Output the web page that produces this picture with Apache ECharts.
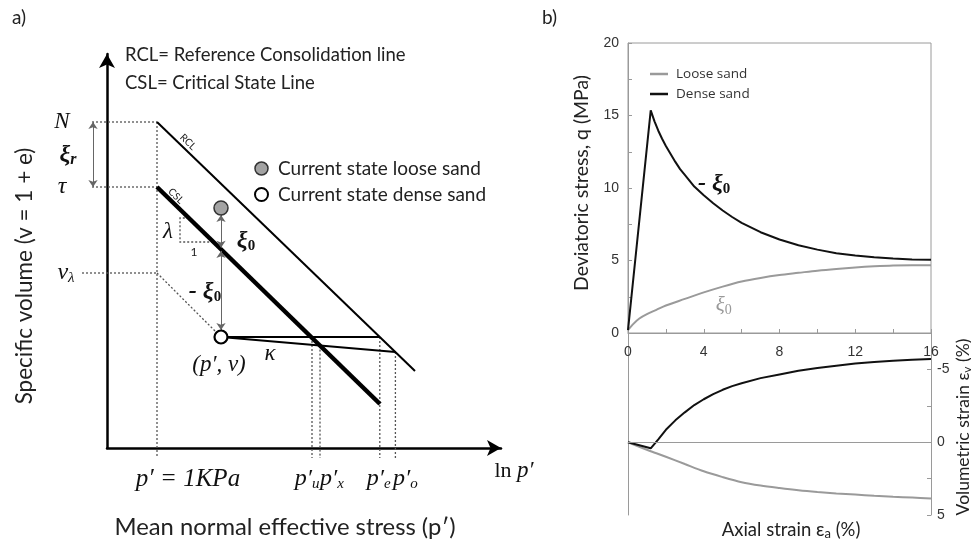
<!DOCTYPE html>
<html>
<head>
<meta charset="utf-8">
<script src="https://cdn.jsdelivr.net/npm/echarts/dist/echarts.min.js"></script>
<style>
  html, body { margin: 0; padding: 0; background: #fff; }
  #chart { width: 971px; height: 544px; }
</style>
</head>
<body>
<div id="chart"></div>
<script>
// ---------- (a) schematic state diagram: x = ln p', y = specific volume v (schematic units) ----------
const lnpRef = 2.5;                               // p' = 1 kPa
const vLevels = [16.3, 13.05, 8.75];              // N, tau, v_lambda
const rclLine = [[2.5, 16.3], [15.4, 3.85]];      // reference consolidation line
const cslLine = [[2.5, 13.05], [13.65, 2.2]];     // critical state line
const looseState = [5.7, 12.0];
const denseState = [5.7, 5.55];
const flatPath = [[5.7, 5.55], [13.64, 5.55]];
const kappaLine = [[5.7, 5.55], [14.42, 4.8]];
const lambdaStep = [[4.09, 11.5], [3.65, 11.5], [3.65, 10.3], [5.33, 10.3]];
const pTickNames = ['u', 'x', 'e', 'o'];
const pTickValues = [10.25, 10.65, 13.64, 14.42];
const pTickTops = [5.55, 5.12, 5.55, 4.8];

// ---------- (b) triaxial response ----------
const strainLoose = [0, 0.3, 0.6, 1, 1.5, 2, 3, 4, 5, 6, 7, 8, 9, 10, 11, 12, 13, 14, 15, 16];
const qLoose = [0.2, 0.65, 1.0, 1.3, 1.6, 1.9, 2.35, 2.8, 3.2, 3.55, 3.8, 4.0, 4.15, 4.3, 4.42, 4.52, 4.6, 4.66, 4.68, 4.68];
const strainDense = [0, 1.2, 1.4, 1.6, 1.8, 2, 2.25, 2.5, 2.75, 3, 3.5, 4, 4.5, 5, 5.5, 6, 7, 8, 9, 10, 11, 12, 13, 14, 15, 16];
const qDense = [0.2, 15.35, 14.6, 13.95, 13.4, 12.9, 12.35, 11.8, 11.3, 10.9, 10.1, 9.5, 8.95, 8.45, 8.0, 7.6, 6.95, 6.45, 6.05, 5.75, 5.5, 5.35, 5.22, 5.13, 5.07, 5.05];
const strainVolLoose = [0, 1.2, 2, 3, 4, 5, 6, 7, 8, 9, 10, 11, 12, 13, 14, 15, 16];
const evLoose = [0, 0.62, 1.0, 1.5, 2.0, 2.4, 2.75, 2.98, 3.15, 3.3, 3.42, 3.52, 3.6, 3.68, 3.75, 3.8, 3.86];
const strainVolDense = [0, 1.2, 1.6, 2, 2.5, 3, 3.5, 4, 4.5, 5, 5.5, 6, 7, 8, 9, 10, 11, 12, 13, 14, 15, 16];
const evDense = [0, 0.42, -0.2, -0.85, -1.5, -2.05, -2.55, -2.95, -3.3, -3.6, -3.85, -4.05, -4.4, -4.65, -4.9, -5.1, -5.25, -5.4, -5.5, -5.6, -5.67, -5.72];
const qTicks = [0, 5, 10, 15, 20];
const strainTicks = [0, 4, 8, 12, 16];
const evTicks = [-5, 0, 5];

const SANS = 'Lato, "Open Sans", sans-serif';
const MATH = '"Liberation Serif", "DejaVu Serif", serif';
const ARIAL = '"Liberation Sans", Arial, sans-serif';

const zip = (xs, ys) => xs.map((x, i) => [x, ys[i]]);
const cslAt = x => {
  const [[x0, y0], [x1, y1]] = cslLine;
  return y0 + (y1 - y0) * (x - x0) / (x1 - x0);
};
const markerR = 0.35;
const bottomY = -0.5;

const INK = '#111';
const mathRich = {
  i: { fontFamily: MATH, fontStyle: 'italic', fontSize: 23, color: INK, textBorderWidth: 0 },
  w: { fontFamily: MATH, fontStyle: 'italic', fontSize: 24, color: INK, textBorderWidth: 0 },
  p: { fontFamily: MATH, fontStyle: 'italic', fontSize: 25, color: INK, textBorderWidth: 0 },
  s: { fontFamily: MATH, fontStyle: 'italic', fontSize: 15, color: INK, textBorderWidth: 0, padding: [10, 0, 0, 0] },
  b: { fontFamily: MATH, fontStyle: 'italic', fontWeight: 'bold', fontSize: 24, color: INK, textBorderWidth: 0 },
  bs: { fontFamily: MATH, fontWeight: 'bold', fontSize: 15, color: INK, textBorderWidth: 0, padding: [10, 0, 0, 0] },
  bsi: { fontFamily: MATH, fontStyle: 'italic', fontWeight: 'bold', fontSize: 16, color: INK, textBorderWidth: 0, padding: [10, 0, 0, 0] },
  r: { fontFamily: MATH, fontSize: 22, color: INK, textBorderWidth: 0 },
  n: { fontFamily: SANS, fontSize: 12, color: '#222', textBorderWidth: 0 },
  g: { fontFamily: MATH, fontStyle: 'italic', fontSize: 21, color: '#999', textBorderWidth: 0 },
  gs: { fontFamily: MATH, fontSize: 14, color: '#999', textBorderWidth: 0, padding: [10, 0, 0, 0] }
};
const noteLabel = {
  show: true, position: 'inside', align: 'center', verticalAlign: 'middle',
  color: INK, opacity: 1, textBorderWidth: 0, textBorderColor: 'transparent', rich: mathRich
};

function segs(name, list, style, extra) {
  return Object.assign({
    type: 'lines', name, coordinateSystem: 'cartesian2d', xAxisIndex: 0, yAxisIndex: 0,
    polyline: true, clip: false, silent: true, z: 3,
    data: list.map(c => ({ coords: c })),
    lineStyle: Object.assign({ color: '#000', width: 1.5, opacity: 1, type: 'solid', curveness: 0 }, style)
  }, extra || {});
}

function note(value, formatter, extra) {
  return { value, label: Object.assign({ formatter }, extra || {}) };
}

const xiArrows = [
  [[looseState[0], looseState[1] - markerR], [looseState[0], cslAt(looseState[0]) + 0.08]],
  [[denseState[0], cslAt(denseState[0]) - 0.08], [denseState[0], denseState[1] + markerR]]
];

const dottedGuides = [
  [[-0.75, vLevels[0]], [lnpRef, vLevels[0]]],
  [[-0.75, vLevels[1]], [lnpRef, vLevels[1]]],
  [[-1.25, vLevels[2]], [lnpRef, vLevels[2]]],
  [[lnpRef, vLevels[0]], [lnpRef, bottomY]],
  [[lnpRef, vLevels[2]], denseState],
  lambdaStep
].concat(pTickValues.map((p, i) => [[p, pTickTops[i]], [p, bottomY]]));

const chart = echarts.init(document.getElementById('chart'), null, { renderer: 'canvas' });

const textStyle = (text, size, extra) => Object.assign({
  text, fontFamily: SANS, fontSize: size, fill: '#222',
  textVerticalAlign: 'middle', verticalAlign: 'middle'
}, extra || {});
const centered = { textAlign: 'center', align: 'center' };
const subRich = (size) => ({
  n: { fontFamily: SANS, fontSize: size, fill: '#222', color: '#222' },
  s: { fontFamily: SANS, fontSize: Math.round(size * 0.7), fill: '#222', color: '#222', padding: [8, 0, 0, 0] }
});

const option = {
  backgroundColor: '#fff',
  animation: false,
  grid: [
    { left: 107, top: 54, width: 394, height: 394, outerBoundsMode: 'none' },
    { left: 628, top: 43, width: 303, height: 290, show: true, borderColor: '#9a9a9a', borderWidth: 1, backgroundColor: 'transparent', outerBoundsMode: 'none' },
    { left: 628, top: 333, width: 303, height: 182, outerBoundsMode: 'none' }
  ],
  xAxis: [
    { gridIndex: 0, type: 'value', min: 0, max: 19.7,
      axisLine: { show: true, onZero: false, symbol: ['none', 'arrow'], symbolSize: [12, 14], lineStyle: { color: '#000', width: 2.5 } },
      axisTick: { show: false }, axisLabel: { show: false }, splitLine: { show: false } },
    { gridIndex: 1, type: 'value', min: 0, max: 16, interval: 2,
      axisLine: { show: true, onZero: false, lineStyle: { color: '#9a9a9a', width: 1 } },
      axisTick: { show: true, inside: true, length: 4, lineStyle: { color: '#9a9a9a' } },
      axisLabel: { show: true, margin: 12, color: '#333', fontFamily: ARIAL, fontSize: 14,
        showMinLabel: true, showMaxLabel: true, hideOverlap: false,
        formatter: v => (strainTicks.indexOf(v) >= 0 ? String(v) : '') },
      splitLine: { show: false } },
    { gridIndex: 2, type: 'value', min: 0, max: 16, show: false }
  ],
  yAxis: [
    { gridIndex: 0, type: 'value', min: 0, max: 19.7,
      axisLine: { show: true, onZero: false, symbol: ['none', 'arrow'], symbolSize: [12, 14], lineStyle: { color: '#000', width: 2.5 } },
      axisTick: { show: false }, axisLabel: { show: false }, splitLine: { show: false } },
    { gridIndex: 1, type: 'value', min: 0, max: 20, interval: 2.5,
      axisLine: { show: true, onZero: false, lineStyle: { color: '#9a9a9a', width: 1 } },
      axisTick: { show: true, inside: true, length: 4, lineStyle: { color: '#9a9a9a' } },
      axisLabel: { show: true, margin: 9, color: '#333', fontFamily: ARIAL, fontSize: 14,
        showMinLabel: true, showMaxLabel: true, hideOverlap: false,
        formatter: v => (qTicks.indexOf(v) >= 0 ? String(v) : '') },
      splitLine: { show: false } },
    { gridIndex: 2, type: 'value', position: 'right', inverse: true, min: -7.5, max: 5, interval: 2.5,
      axisLine: { show: true, onZero: false, lineStyle: { color: '#9a9a9a', width: 1 } },
      axisTick: { show: true, inside: true, length: 4, lineStyle: { color: '#9a9a9a' } },
      axisLabel: { show: true, margin: 6, color: '#333', fontFamily: ARIAL, fontSize: 14,
        showMinLabel: true, showMaxLabel: true, hideOverlap: false,
        formatter: v => (evTicks.indexOf(v) >= 0 ? String(v) : '') },
      splitLine: { show: false } },
    { gridIndex: 2, type: 'value', position: 'left', inverse: true, min: -7.5, max: 5,
      axisLine: { show: true, onZero: false, lineStyle: { color: '#9a9a9a', width: 1 } },
      axisTick: { show: false }, axisLabel: { show: false }, splitLine: { show: false } }
  ],
  legend: [
    { orient: 'vertical', left: 254, top: 158, padding: 0, itemGap: 5, itemWidth: 13, itemHeight: 13,
      icon: 'circle', selectedMode: false,
      textStyle: { fontFamily: SANS, fontSize: 19, color: '#222', lineHeight: 21, padding: [0, 0, 0, 5] },
      data: [
        { name: 'Current state loose sand', itemStyle: { color: '#a3a3a3', borderColor: '#333', borderWidth: 1.5 } },
        { name: 'Current state dense sand', itemStyle: { color: '#fff', borderColor: '#000', borderWidth: 2 } }
      ] },
    { orient: 'vertical', left: 650, top: 66, padding: 0, itemGap: 4, itemWidth: 18, itemHeight: 2.5,
      icon: 'rect', selectedMode: false,
      textStyle: { fontFamily: '"Open Sans", sans-serif', fontSize: 13.5, color: '#333', lineHeight: 16, padding: [0, 0, 0, 3] },
      data: ['Loose sand', 'Dense sand'] }
  ],
  series: [
    // ---- (a) guides and lines ----
    segs('guides', dottedGuides, { color: '#555', width: 1.3, type: [2, 2] }, { z: 2 }),
    segs('RCL', [rclLine], { width: 2 }),
    segs('CSL', [cslLine], { width: 4.5 }),
    segs('paths', [flatPath, kappaLine], { width: 1.8 }),
    segs('xi arrows', [[[-0.7, vLevels[0]], [-0.7, vLevels[1]]]].concat(xiArrows),
      { color: '#666', width: 1 }, { polyline: false, symbol: ['arrow', 'arrow'], symbolSize: 7, z: 4 }),
    { type: 'scatter', name: 'Current state loose sand', xAxisIndex: 0, yAxisIndex: 0, clip: false, z: 6,
      symbol: 'circle', symbolSize: 14, data: [looseState],
      itemStyle: { color: '#a3a3a3', borderColor: '#333', borderWidth: 1.5, opacity: 1 } },
    { type: 'scatter', name: 'Current state dense sand', xAxisIndex: 0, yAxisIndex: 0, clip: false, z: 6,
      symbol: 'circle', symbolSize: 13, data: [denseState],
      itemStyle: { color: '#fff', borderColor: '#000', borderWidth: 2.2, opacity: 1 } },
    { type: 'scatter', name: 'notes a', xAxisIndex: 0, yAxisIndex: 0, clip: false, silent: true, z: 7,
      symbolSize: 0, itemStyle: { color: INK, opacity: 1 }, label: noteLabel,
      data: [
        note([-2.25, vLevels[0]], '{i|N}'),
        note([-1.95, (vLevels[0] + vLevels[1]) / 2], '{b|ξ}{bsi|r}'),
        note([-2.25, vLevels[1]], '{w|τ}'),
        note([-2.05, vLevels[2]], '{w|ν}{s|λ}'),
        note([3.05, 10.8], '{i|λ}'),
        note([4.35, 9.8], '{n|1}'),
        note([4.05, 15.3], 'RCL', { rotate: -44, fontFamily: SANS, fontSize: 10, color: '#222' }),
        note([3.45, 12.6], 'CSL', { rotate: -44, fontFamily: SANS, fontSize: 10, color: '#222' }),
        note([6.95, 10.35], '{b|ξ}{bs|0}'),
        note([4.9, 7.8], '{b|- ξ}{bs|0}'),
        note([5.6, 4.15], '{i|(p′, ν)}'),
        note([8.15, 4.7], '{i|κ}'),
        note([4.05, -1.55], '{p|p′ = 1KPa}'),
        note([20.35, -1.15], '{r|ln }{i|p′}')
      ].concat(pTickValues.map((p, i) => note([p + [-0.25, 0.6, -0.05, 0.5][i], -1.55], '{w|p′}{s|' + pTickNames[i] + '}')))
    },
    // ---- (b) deviatoric stress ----
    { type: 'line', name: 'Loose sand', xAxisIndex: 1, yAxisIndex: 1, symbol: 'none', smooth: 0.3,
      data: zip(strainLoose, qLoose), lineStyle: { color: '#9a9a9a', width: 2 }, itemStyle: { color: '#9a9a9a' }, z: 3 },
    { type: 'line', name: 'Dense sand', xAxisIndex: 1, yAxisIndex: 1, symbol: 'none', smooth: false,
      data: zip(strainDense, qDense), lineStyle: { color: '#111', width: 2 }, itemStyle: { color: '#111' }, z: 4 },
    { type: 'scatter', name: 'notes b', xAxisIndex: 1, yAxisIndex: 1, silent: true, symbolSize: 0, z: 7,
      itemStyle: { color: INK, opacity: 1 }, label: noteLabel,
      data: [
        note([4.55, 10.3], '{b|- ξ}{bs|0}'),
        note([5.05, 1.93], '{g|ξ}{gs|0}')
      ] },
    // ---- (b) volumetric strain ----
    { type: 'line', name: 'Loose sand', xAxisIndex: 2, yAxisIndex: 2, symbol: 'none', smooth: 0.3,
      data: zip(strainVolLoose, evLoose), lineStyle: { color: '#9a9a9a', width: 2 }, itemStyle: { color: '#9a9a9a' }, z: 3,
      markLine: { silent: true, symbol: 'none', label: { show: false }, animation: false,
        lineStyle: { color: '#9a9a9a', width: 1, type: 'solid' }, data: [{ yAxis: 0 }] } },
    { type: 'line', name: 'Dense sand', xAxisIndex: 2, yAxisIndex: 2, symbol: 'none', smooth: false,
      data: zip(strainVolDense, evDense), lineStyle: { color: '#111', width: 2 }, itemStyle: { color: '#111' }, z: 4 }
  ],
  graphic: [
    { type: 'text', x: 12, y: 18, style: textStyle('a)', 19) },
    { type: 'text', x: 542, y: 18, style: textStyle('b)', 19) },
    { type: 'text', x: 125, y: 55, style: textStyle('RCL= Reference Consolidation line', 18.5) },
    { type: 'text', x: 125, y: 83, style: textStyle('CSL= Critical State Line', 18.5) },
    { type: 'text', x: 25, y: 276, rotation: Math.PI / 2, style: textStyle('Specific volume (v = 1 + e)', 22.5, centered) },
    { type: 'text', x: 285, y: 527, style: textStyle('Mean normal effective stress (p′)', 23.8, centered) },
    { type: 'text', x: 582, y: 183, rotation: Math.PI / 2, style: textStyle('Deviatoric stress, q (MPa)', 19.4, centered) },
    { type: 'text', x: 791, y: 530, style: textStyle('{n|Axial strain ε}{s|a}{n| (%)}', 18.5, Object.assign({ rich: subRich(18.5) }, centered)) },
    { type: 'text', x: 963, y: 427, rotation: Math.PI / 2, style: textStyle('{n|Volumetric strain ε}{s|v}{n| (%)}', 17.5, Object.assign({ rich: subRich(17.5) }, centered)) }
  ]
};

chart.setOption(option);
</script>
</body>
</html>
